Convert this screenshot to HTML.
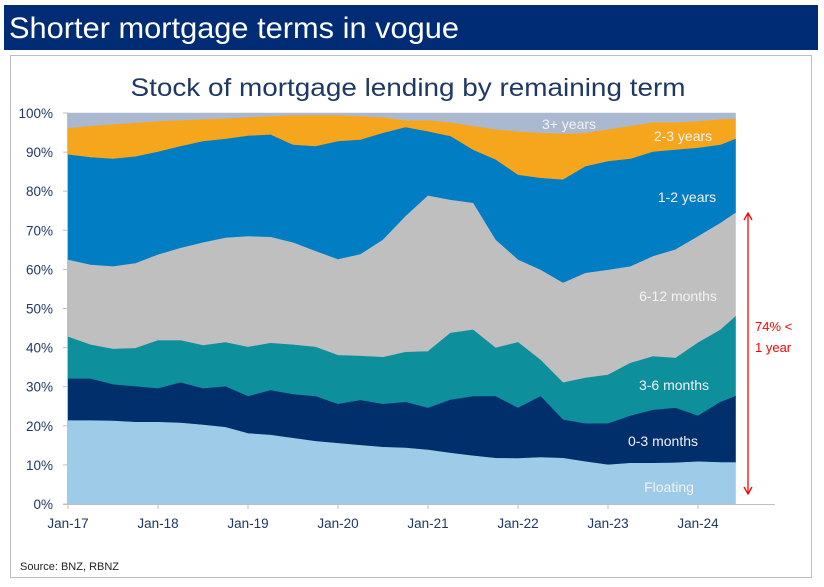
<!DOCTYPE html>
<html><head><meta charset="utf-8"><style>
html,body{margin:0;padding:0;background:#fff;}
svg{display:block;font-family:"Liberation Sans",Arial,sans-serif;}
</style></head><body>
<svg id="chart" width="824" height="587" viewBox="0 0 824 587">
  <rect x="4" y="5" width="814" height="45" fill="#002b75"/>
  <text x="9" y="38" font-size="30" fill="#fff" textLength="450" lengthAdjust="spacingAndGlyphs">Shorter mortgage terms in vogue</text>
  <rect x="10.5" y="55.5" width="801" height="522" fill="#fff" stroke="#bdbdbd"/>
  <text x="408" y="96" font-size="25" fill="#1f3864" text-anchor="middle" textLength="555" lengthAdjust="spacingAndGlyphs">Stock of mortgage lending by remaining term</text>
  <g id="areas"></g>
  <g id="axes"></g>
  <g id="labels">
    <text x="569" y="129" font-size="14" fill="#f2f2f2" text-anchor="middle">3+ years</text>
    <text x="683" y="141" font-size="14" fill="#f2f2f2" text-anchor="middle">2-3 years</text>
    <text x="687" y="202" font-size="14" fill="#f2f2f2" text-anchor="middle">1-2 years</text>
    <text x="678" y="301" font-size="14" fill="#f2f2f2" text-anchor="middle">6-12 months</text>
    <text x="674" y="390" font-size="14" fill="#f2f2f2" text-anchor="middle">3-6 months</text>
    <text x="663" y="446" font-size="14" fill="#f2f2f2" text-anchor="middle">0-3 months</text>
    <text x="669" y="492" font-size="14" fill="#f2f2f2" text-anchor="middle">Floating</text>
  </g>
  <g>
    <line x1="748" y1="213" x2="748" y2="494" stroke="#ff0000" stroke-width="1.3"/>
    <polyline points="744,220 748,213 752,220" fill="none" stroke="#ff0000" stroke-width="1.3"/>
    <polyline points="744,487 748,494 752,487" fill="none" stroke="#ff0000" stroke-width="1.3"/>
    <text x="755" y="331" font-size="13" fill="#ff0000">74% &lt;</text>
    <text x="755" y="352" font-size="13" fill="#ff0000">1 year</text>
  </g>
  <text x="20" y="570" font-size="11" fill="#222">Source: BNZ, RBNZ</text>
</svg>
<script>
// months since Jan-17
const months = [0,3,6,9,12,15,18,21,24,27,30,33,36,39,42,45,48,51,54,57,60,63,66,69,72,75,78,81,84,87,89];
// cumulative share (%) of lending with remaining term up to each bucket
const floating = [21.3,21.3,21.2,20.9,20.9,20.7,20.2,19.6,18,17.6,16.8,16,15.5,15,14.5,14.3,13.8,13,12.3,11.7,11.6,11.9,11.7,10.8,10,10.4,10.4,10.5,10.8,10.6,10.6];
const upTo3m = [32,32,30.5,30,29.5,31,29.5,30,27.5,29,28,27.5,25.5,26.5,25.5,26,24.5,26.6,27.5,27.5,24.5,27.5,21.5,20.5,20.5,22.5,24,24.5,22.5,26,27.5];
const upTo6m = [42.7,40.7,39.6,39.8,41.8,41.8,40.5,41.3,40.1,41.1,40.7,40.1,38,37.8,37.5,38.8,39,43.7,44.5,39.9,41.3,36.8,31,32.2,33,36,37.7,37.3,41.2,44.5,47.9];
const upTo12m = [62.4,61.1,60.7,61.5,63.7,65.4,66.8,68,68.4,68.2,66.8,64.6,62.5,63.8,67.5,73.5,78.8,77.7,76.9,67.5,62.4,59.8,56.5,59,59.8,60.7,63.3,65,68.4,71.8,74.4];
const upTo2y = [89.3,88.6,88.2,88.8,90,91.4,92.7,93.3,94.1,94.4,91.8,91.4,92.7,93.1,94.8,96.3,95.2,94,90.5,88,84.1,83.3,82.9,86.3,87.6,88.2,90,90.5,91,91.8,93.3];
const upTo3y = [96,96.6,97,97.4,97.8,98,98.3,98.5,98.8,99.1,99.3,99.3,99.3,99.1,98.8,98,98,97.5,96.6,95.7,95.2,94.8,94.6,94.8,95.7,96.6,97.5,97.5,97.8,98.3,98.4];
const all = months.map(() => 100);
const yTicks = [0,10,20,30,40,50,60,70,80,90,100];
const xTickLabels = ["Jan-17","Jan-18","Jan-19","Jan-20","Jan-21","Jan-22","Jan-23","Jan-24"];

const NS = "http://www.w3.org/2000/svg";
const X0 = 68, PXM = 7.5, Y0 = 504, PXP = 3.91;
function xs(m){ return X0 + m * PXM; }
function ys(v){ return Y0 - v * PXP; }

const layers = [
  {name:"area-3plus-years", top:all, bottom:upTo3y, color:"#aab9cf"},
  {name:"area-2-3-years", top:upTo3y, bottom:upTo2y, color:"#f6a61c"},
  {name:"area-1-2-years", top:upTo2y, bottom:upTo12m, color:"#017dc3"},
  {name:"area-6-12-months", top:upTo12m, bottom:upTo6m, color:"#bfbfbf"},
  {name:"area-3-6-months", top:upTo6m, bottom:upTo3m, color:"#0e8f9c"},
  {name:"area-0-3-months", top:upTo3m, bottom:floating, color:"#002f6c"},
  {name:"area-floating", top:floating, bottom:months.map(()=>0), color:"#9dcbe8"}
];
const areas = document.getElementById("areas");
layers.forEach(L => {
  let d = "";
  months.forEach((m,i) => { d += (i ? "L" : "M") + xs(m).toFixed(1) + "," + ys(L.top[i]).toFixed(1); });
  for (let i = months.length - 1; i >= 0; i--) d += "L" + xs(months[i]).toFixed(1) + "," + ys(L.bottom[i]).toFixed(1);
  const p = document.createElementNS(NS, "path");
  p.setAttribute("d", d + "Z");
  p.setAttribute("fill", L.color);
  p.setAttribute("stroke", L.color);
  p.setAttribute("stroke-width", "0.6");
  
  
  areas.appendChild(p);
});

const axes = document.getElementById("axes");
function mk(tag, attrs){ const e = document.createElementNS(NS, tag); for (const k in attrs) e.setAttribute(k, attrs[k]); return e; }
const yAxis = mk("line", {x1:X0-0.5, y1:ys(100), x2:X0-0.5, y2:Y0, stroke:"#bfbfbf"});


axes.appendChild(yAxis);
const xAxis = mk("line", {x1:X0-5, y1:Y0+0.5, x2:775, y2:Y0+0.5, stroke:"#bfbfbf"});


axes.appendChild(xAxis);
yTicks.forEach(v => {
  const t = mk("line", {x1:X0-5, y1:ys(v), x2:X0, y2:ys(v), stroke:"#bfbfbf"});
  
  
  axes.appendChild(t);
  const tx = mk("text", {x:53, y:ys(v)+5, "font-size":"13.5", fill:"#1f3864", "text-anchor":"end"});
  tx.textContent = v + "%";
  
  
  axes.appendChild(tx);
});
xTickLabels.forEach((lab, i) => {
  const x = xs(i * 12);
  const t = mk("line", {x1:x, y1:Y0, x2:x, y2:Y0+5, stroke:"#bfbfbf"});
  
  
  axes.appendChild(t);
  const tx = mk("text", {x:x, y:528, "font-size":"13.5", fill:"#1f3864", "text-anchor":"middle"});
  tx.textContent = lab;
  
  
  axes.appendChild(tx);
});
</script>
</body></html>
